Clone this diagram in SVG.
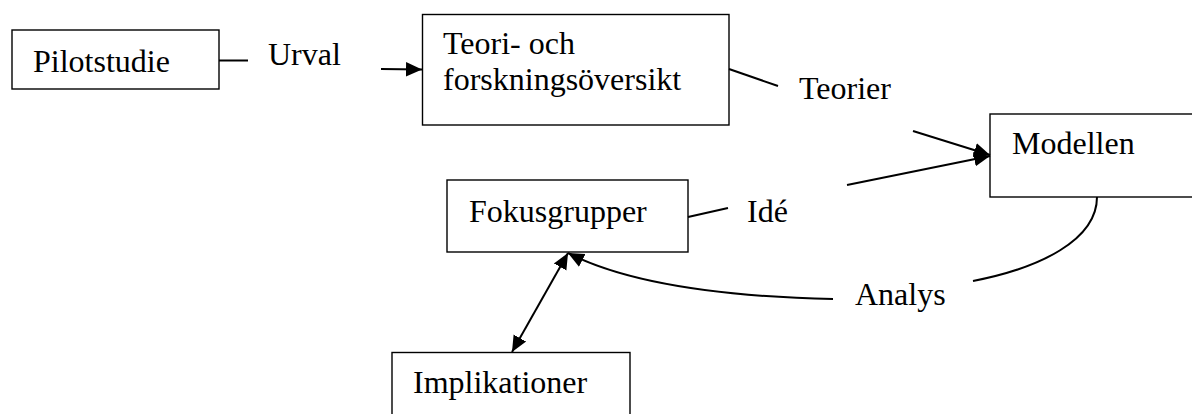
<svg xmlns="http://www.w3.org/2000/svg" width="1192" height="414" viewBox="0 0 1192 414">
<style>
.box{fill:#fff;stroke:#000;stroke-width:1.4}
.t{font-family:"Liberation Serif","Times New Roman",serif;font-size:32px;fill:#000}
.c{fill:none;stroke:#000;stroke-width:2}
</style>
<defs>
<marker id="ah" viewBox="0 0 10 10" refX="10" refY="5" markerWidth="8" markerHeight="8" markerUnits="strokeWidth" orient="auto-start-reverse">
<path d="M0,0.5 L10,5 L0,9.5 z" fill="#000"/>
</marker>
</defs>
<rect width="1192" height="414" fill="#fff"/>
<g id="pilotstudie"><rect class="box" x="12" y="30" width="207" height="59"/><text class="t" x="33" y="72">Pilotstudie</text></g>
<g id="teori"><rect class="box" x="422.5" y="14.5" width="306.5" height="110.5"/><text class="t" x="443" y="54">Teori- och</text><text class="t" x="443" y="90">forskningsöversikt</text></g>
<g id="modellen"><rect class="box" x="990" y="114" width="210" height="83"/><text class="t" x="1012" y="154">Modellen</text></g>
<g id="fokusgrupper"><rect class="box" x="447" y="180" width="241" height="72"/><text class="t" x="469" y="222">Fokusgrupper</text></g>
<g id="implikationer"><rect class="box" x="392" y="352.5" width="238" height="70"/><text class="t" x="413" y="393">Implikationer</text></g>
<g id="labels">
<text class="t" x="268" y="65">Urval</text>
<text class="t" x="799" y="99">Teorier</text>
<text class="t" x="747" y="222">Idé</text>
<text class="t" x="855" y="305">Analys</text>
</g>
<g id="connectors">
<line class="c" x1="219" y1="60.5" x2="248" y2="60.5"/>
<line class="c" x1="381" y1="69" x2="422" y2="69.5" marker-end="url(#ah)"/>
<line class="c" x1="729" y1="69" x2="778" y2="86"/>
<line class="c" x1="913" y1="131" x2="990" y2="155" marker-end="url(#ah)"/>
<line class="c" x1="688" y1="217" x2="728" y2="208"/>
<line class="c" x1="847" y1="185" x2="990" y2="156" marker-end="url(#ah)"/>
<path class="c" d="M1097,197 C1097,240 1040,268 973,281"/>
<path class="c" d="M833,299 Q650,295 568,253" marker-end="url(#ah)"/>
<line class="c" x1="568" y1="253" x2="512" y2="352" marker-start="url(#ah)" marker-end="url(#ah)"/>
</g>
</svg>
